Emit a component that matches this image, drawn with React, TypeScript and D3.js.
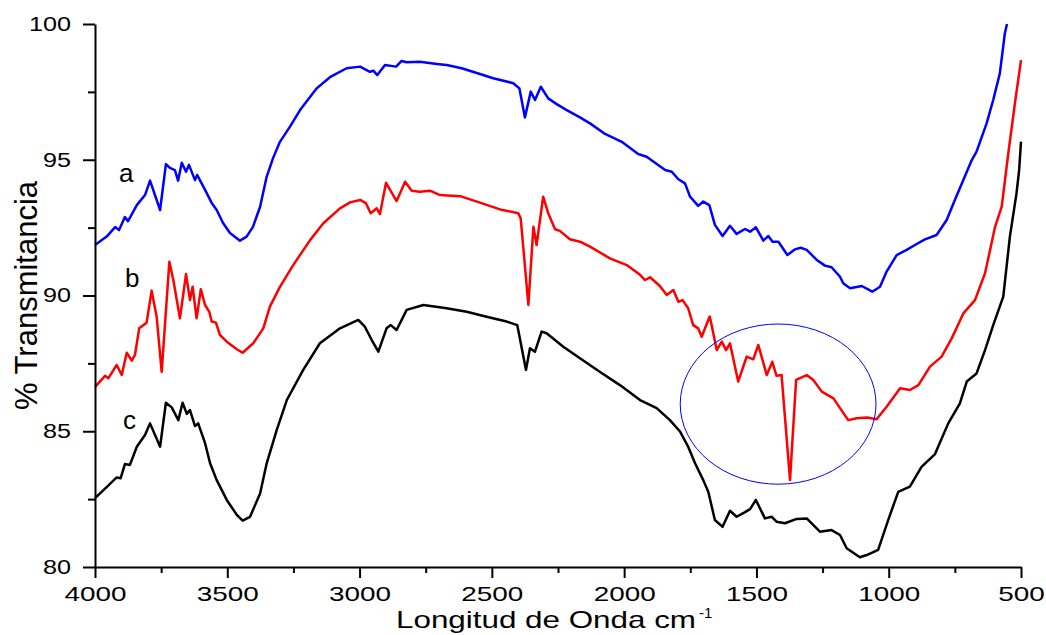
import React, { useEffect, useRef } from "react";
import * as d3 from "d3";

// FTIR spectra: [wavenumber cm-1, % transmittance]
const seriesA: [number, number][] = [
  [4000, 91.86], [3956, 92.17], [3924, 92.52], [3909, 92.41], [3887, 92.89], [3875, 92.74],
  [3842, 93.33], [3811, 93.7], [3792, 94.23], [3754, 93.15], [3732, 94.84], [3717, 94.7],
  [3698, 94.62], [3686, 94.23], [3672, 94.89], [3656, 94.56], [3645, 94.81], [3622, 94.25],
  [3614, 94.44], [3584, 93.89], [3559, 93.41], [3540, 93.15], [3516, 92.67], [3490, 92.3],
  [3452, 92.02], [3427, 92.17], [3403, 92.53], [3376, 93.27], [3351, 94.38], [3327, 95.06],
  [3301, 95.66], [3263, 96.22], [3225, 96.83], [3162, 97.63], [3112, 98.04], [3049, 98.37],
  [2998, 98.43], [2961, 98.24], [2948, 98.28], [2933, 98.12], [2904, 98.49], [2862, 98.43],
  [2841, 98.64], [2822, 98.59], [2772, 98.61], [2708, 98.53], [2671, 98.49], [2614, 98.37],
  [2545, 98.16], [2495, 98.0], [2419, 97.82], [2396, 97.63], [2375, 96.56], [2353, 97.51],
  [2337, 97.2], [2315, 97.69], [2287, 97.26], [2255, 97.05], [2217, 96.83], [2167, 96.56],
  [2129, 96.34], [2072, 95.95], [2009, 95.66], [1947, 95.21], [1915, 95.11], [1845, 94.62],
  [1820, 94.56], [1795, 94.28], [1770, 94.13], [1751, 93.64], [1720, 93.3], [1701, 93.46],
  [1678, 93.33], [1657, 92.6], [1628, 92.19], [1600, 92.57], [1575, 92.27], [1543, 92.45],
  [1524, 92.35], [1502, 92.51], [1474, 92.02], [1455, 92.19], [1439, 91.98], [1417, 91.98],
  [1383, 91.49], [1354, 91.7], [1333, 91.76], [1310, 91.68], [1272, 91.31], [1241, 91.1],
  [1216, 91.04], [1184, 90.69], [1172, 90.45], [1146, 90.27], [1102, 90.35], [1062, 90.14],
  [1033, 90.32], [1008, 90.88], [970, 91.49], [932, 91.68], [901, 91.86], [863, 92.07],
  [819, 92.23], [781, 92.78], [750, 93.52], [718, 94.25], [686, 94.99], [668, 95.3],
  [630, 96.34], [605, 97.2], [580, 98.18], [561, 99.66], [553, 100.0],
];

const seriesB: [number, number][] = [
  [4000, 86.63], [3994, 86.7], [3962, 87.04], [3950, 86.95], [3918, 87.44], [3899, 87.07],
  [3880, 87.89], [3861, 87.6], [3849, 87.81], [3833, 88.79], [3805, 89.0], [3786, 90.18],
  [3767, 89.22], [3748, 87.19], [3719, 91.24], [3704, 90.57], [3679, 89.16], [3656, 90.79],
  [3641, 89.83], [3631, 90.32], [3616, 89.16], [3600, 90.23], [3584, 89.65], [3568, 89.4],
  [3559, 89.04], [3543, 89.0], [3528, 88.55], [3502, 88.3], [3464, 88.02], [3442, 87.89],
  [3402, 88.24], [3364, 88.79], [3339, 89.59], [3301, 90.32], [3251, 91.12], [3187, 92.04],
  [3137, 92.66], [3074, 93.21], [3036, 93.43], [2998, 93.52], [2976, 93.4], [2958, 93.03],
  [2935, 93.21], [2923, 93.0], [2900, 94.15], [2860, 93.48], [2828, 94.19], [2803, 93.86],
  [2772, 93.82], [2734, 93.86], [2696, 93.7], [2620, 93.66], [2545, 93.42], [2469, 93.17],
  [2400, 93.03], [2391, 92.84], [2362, 89.65], [2343, 92.53], [2331, 91.86], [2306, 93.64],
  [2287, 93.03], [2261, 92.44], [2243, 92.38], [2205, 92.07], [2167, 91.98], [2129, 91.8],
  [2054, 91.37], [1990, 91.12], [1940, 90.76], [1921, 90.57], [1902, 90.67], [1865, 90.35],
  [1839, 90.02], [1814, 90.2], [1795, 89.77], [1779, 89.83], [1758, 89.53], [1739, 88.91],
  [1720, 88.79], [1707, 88.48], [1678, 89.2], [1676, 89.22], [1650, 87.99], [1631, 88.3],
  [1615, 87.99], [1600, 88.24], [1569, 86.83], [1537, 87.75], [1512, 87.65], [1493, 88.18],
  [1461, 87.07], [1440, 87.56], [1424, 87.04], [1405, 87.07], [1373, 83.2], [1350, 86.89],
  [1310, 87.07], [1285, 86.89], [1253, 86.46], [1209, 86.21], [1153, 85.41], [1121, 85.48],
  [1083, 85.51], [1046, 85.44], [1008, 85.9], [957, 86.58], [920, 86.52], [888, 86.7],
  [844, 87.38], [800, 87.75], [762, 88.42], [718, 89.34], [674, 89.83], [636, 90.82],
  [598, 92.53], [573, 93.27], [548, 95.24], [523, 97.08], [500, 98.67],
];

const seriesC: [number, number][] = [
  [4000, 82.54], [3956, 82.94], [3918, 83.3], [3903, 83.27], [3887, 83.79], [3868, 83.76],
  [3842, 84.43], [3811, 84.86], [3792, 85.29], [3754, 84.43], [3732, 86.05], [3710, 85.88],
  [3685, 85.41], [3669, 86.05], [3653, 85.64], [3641, 85.78], [3622, 85.19], [3610, 85.29],
  [3584, 84.56], [3565, 83.82], [3540, 83.2], [3502, 82.47], [3464, 81.92], [3442, 81.71],
  [3414, 81.85], [3376, 82.71], [3351, 83.82], [3313, 85.05], [3275, 86.15], [3213, 87.26],
  [3150, 88.24], [3074, 88.79], [3005, 89.1], [2980, 88.85], [2954, 88.36], [2929, 87.93],
  [2898, 88.79], [2882, 88.91], [2860, 88.73], [2822, 89.47], [2759, 89.65], [2671, 89.53],
  [2595, 89.4], [2520, 89.22], [2444, 89.04], [2404, 88.91], [2371, 87.26], [2356, 88.06],
  [2337, 87.93], [2312, 88.67], [2293, 88.61], [2230, 88.11], [2167, 87.69], [2091, 87.18],
  [2016, 86.7], [1940, 86.15], [1877, 85.85], [1827, 85.41], [1788, 84.98], [1758, 84.43],
  [1732, 83.82], [1701, 83.2], [1682, 82.77], [1657, 81.73], [1628, 81.48], [1600, 82.07],
  [1575, 81.85], [1543, 82.02], [1524, 82.13], [1502, 82.47], [1468, 81.79], [1442, 81.85],
  [1424, 81.67], [1392, 81.61], [1348, 81.77], [1310, 81.79], [1260, 81.3], [1216, 81.36],
  [1184, 81.18], [1159, 80.69], [1109, 80.36], [1083, 80.44], [1040, 80.63], [1002, 81.73],
  [964, 82.77], [920, 82.96], [876, 83.69], [825, 84.16], [775, 85.29], [731, 86.03],
  [705, 86.83], [668, 87.13], [636, 87.99], [605, 88.91], [567, 89.96], [542, 92.17],
  [517, 93.76], [507, 94.62], [500, 95.67],
];

const seriesNames = ["a", "b", "c"];
const seriesColors = ["#0000ff", "#ff0000", "#000000"];
// label anchor positions in data units [wavenumber, transmittance]
const labelPos: [number, number][] = [[3909, 94.18], [3887, 90.31], [3894, 85.08]];

const xTicks = [4000, 3500, 3000, 2500, 2000, 1500, 1000, 500];
const xMinor = [3750, 3250, 2750, 2250, 1750, 1250, 750];
const yTicks = [80, 85, 90, 95, 100];
const yMinor = [82.5, 87.5, 92.5, 97.5];

// highlighted region (ellipse): center and radii in data units
const highlight = { cx: 1418, cy: 86.0, rx: 370, ry: 2.95 };

export default function App() {
  const ref = useRef<SVGSVGElement>(null);

  useEffect(() => {
    const width = 1046;
    const height = 635;
    const margin = { left: 95, right: 25, top: 24, bottom: 68 };
    const font = "'Liberation Sans', Arial, sans-serif";

    const svg = d3.select(ref.current!);
    svg.selectAll("*").remove();
    svg.attr("width", width).attr("height", height);

    const x = d3.scaleLinear().domain([4000, 500]).range([margin.left, width - margin.right]);
    const y = d3.scaleLinear().domain([80, 100]).range([height - margin.bottom, margin.top]);

    const line = d3
      .line<[number, number]>()
      .x((d) => x(d[0]))
      .y((d) => y(d[1]));

    [seriesA, seriesB, seriesC].forEach((s, i) => {
      svg
        .append("path")
        .datum(s)
        .attr("d", line)
        .attr("fill", "none")
        .attr("stroke", seriesColors[i])
        .attr("stroke-width", 2.5)
        .attr("stroke-linejoin", "round");
    });

    svg
      .append("ellipse")
      .attr("cx", x(highlight.cx))
      .attr("cy", y(highlight.cy))
      .attr("rx", Math.abs(x(highlight.cx + highlight.rx) - x(highlight.cx)))
      .attr("ry", Math.abs(y(highlight.cy + highlight.ry) - y(highlight.cy)))
      .attr("fill", "none")
      .attr("stroke", "#0000ff")
      .attr("stroke-width", 1);

    svg
      .selectAll("text.lbl")
      .data(seriesNames)
      .join("text")
      .attr("class", "lbl")
      .attr("x", (_, i) => x(labelPos[i][0]))
      .attr("y", (_, i) => y(labelPos[i][1]))
      .text((d) => d)
      .style("font-family", font)
      .style("font-size", "26px")
      .attr("fill", "#000");

    const bottom = height - margin.bottom;

    // x axis
    const gx = svg.append("g").attr("transform", `translate(0,${bottom})`);
    gx.call(d3.axisBottom(x).tickValues(xTicks).tickSize(11).tickPadding(8).tickSizeOuter(0).tickFormat(d3.format("d")));
    gx.call((g) =>
      g
        .selectAll("text")
        .style("font-family", font)
        .style("font-size", "21px")
        .attr("fill", "#000")
        .attr("textLength", (d: any) => String(d).length * 15.5)
        .attr("lengthAdjust", "spacingAndGlyphs")
    );
    const gxm = svg.append("g").attr("transform", `translate(0,${bottom})`);
    gxm.call(d3.axisBottom(x).tickValues(xMinor).tickSize(6).tickFormat(() => "").tickSizeOuter(0));
    gxm.select(".domain").remove();

    // y axis
    const gy = svg.append("g").attr("transform", `translate(${margin.left},0)`);
    gy.call(d3.axisLeft(y).tickValues(yTicks).tickSize(12).tickPadding(12).tickSizeOuter(0));
    gy.call((g) =>
      g
        .selectAll("text")
        .style("font-family", font)
        .style("font-size", "20px")
        .attr("fill", "#000")
        .attr("textLength", (d: any) => String(d).length * 14)
        .attr("lengthAdjust", "spacingAndGlyphs")
    );
    const gym = svg.append("g").attr("transform", `translate(${margin.left},0)`);
    gym.call(d3.axisLeft(y).tickValues(yMinor).tickSize(7).tickFormat(() => "").tickSizeOuter(0));
    gym.select(".domain").remove();

    svg.selectAll(".domain, .tick line").attr("stroke", "#000").attr("stroke-width", 2);

    // axis titles
    svg
      .append("text")
      .attr("x", 396)
      .attr("y", 628)
      .attr("textLength", 300)
      .attr("lengthAdjust", "spacingAndGlyphs")
      .style("font-family", font)
      .style("font-size", "24px")
      .text("Longitud de Onda cm");
    svg
      .append("text")
      .attr("x", 699)
      .attr("y", 618)
      .style("font-family", font)
      .style("font-size", "15px")
      .text("-1");

    svg
      .append("text")
      .attr("transform", `translate(37,${(margin.top + bottom) / 2}) rotate(-90)`)
      .attr("text-anchor", "middle")
      .style("font-family", font)
      .style("font-size", "31px")
      .text("% Transmitancia");
  }, []);

  return <svg ref={ref} style={{ position: "absolute", left: 0, top: 0, background: "#fff" }}></svg>;
}
